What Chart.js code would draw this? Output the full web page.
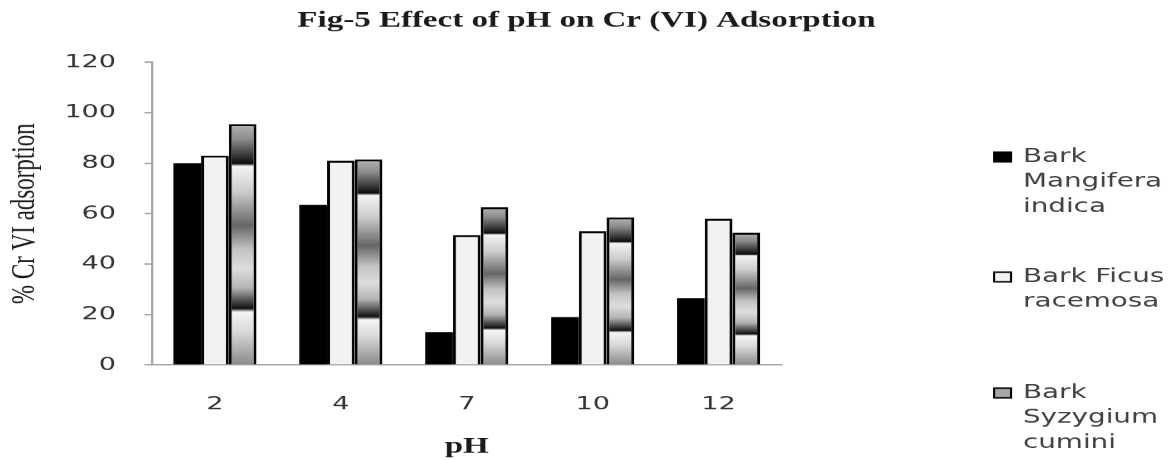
<!DOCTYPE html>
<html><head><meta charset="utf-8">
<script src="https://cdn.jsdelivr.net/npm/chart.js@4.4.1/dist/chart.umd.min.js"></script>
<style>
html,body{margin:0;padding:0;background:#fff;overflow:hidden;width:1168px;height:460px;}
#wrap{position:absolute;left:0;top:0;width:779px;height:460px;transform:scaleX(1.4994);transform-origin:0 0;}
</style></head><body>
<div id="wrap"><canvas id="c"></canvas></div>
<script>
const categories = ['2', '4', '7', '10', '12'];
const seriesNames = ['Bark Mangifera indica', 'Bark Ficus racemosa', 'Bark Syzygium cumini'];
const legendLines = [['Bark', 'Mangifera', 'indica'], ['Bark Ficus', 'racemosa'], ['Bark', 'Syzygium', 'cumini']];
const mangifera = [80, 63.5, 13, 19, 26.5];
const ficus = [83, 81, 51.5, 53, 58];
const syzygium = [95.5, 81.5, 62.5, 58.5, 52.5];
const chartTitle = 'Fig-5 Effect of pH on Cr (VI) Adsorption';
const xTitle = 'pH';
const yTitle = '% Cr VI adsorption';

const gradStops = [
  [0, '#b4b4b4'], [0.06, '#8e8e8e'], [0.14, '#2c2c2c'], [0.163, '#0a0a0a'], [0.175, '#f4f4f4'],
  [0.28, '#cdcdcd'], [0.42, '#666666'], [0.52, '#c4c4c4'], [0.6, '#dedede'], [0.68, '#b4b4b4'],
  [0.74, '#404040'], [0.765, '#111111'], [0.78, '#f5f5f5'], [0.86, '#dadada'], [1, '#8a8a8a']
];
function syzFill(ctx) {
  const chart = ctx.chart;
  if (!chart.chartArea || ctx.type !== 'data' || !chart.scales.y) return '#a8a8a8';
  const y = chart.scales.y;
  const top = y.getPixelForValue(ctx.raw);
  const base = y.getPixelForValue(0);
  const g = chart.ctx.createLinearGradient(0, top, 0, base);
  gradStops.forEach(s => g.addColorStop(s[0], s[1]));
  return g;
}

const legendPlugin = {
  id: 'sideLegend',
  afterDraw(chart) {
    const ctx = chart.ctx;
    const kx = 662, tx = 682, firstY = [157, 277, 393], lh = 25;
    ctx.save();
    ctx.font = '18.5px "DejaVu Sans", sans-serif';
    ctx.textBaseline = 'middle';
    ctx.textAlign = 'left';
    chart.data.datasets.forEach((ds, i) => {
      const y = firstY[i];
      ctx.fillStyle = ds.legendFill;
      ctx.fillRect(kx, y - 5.5, 12.7, 11);
      if (ds.legendStroke) {
        ctx.lineWidth = 1.4; ctx.strokeStyle = '#000';
        ctx.strokeRect(kx + 0.7, y - 4.8, 11.3, 9.6);
      }
      ctx.fillStyle = '#404040';
      legendLines[i].forEach((t, j) => ctx.fillText(t, tx, y + j * lh));
    });
    ctx.restore();
  }
};

new Chart(document.getElementById('c'), {
  type: 'bar',
  data: {
    labels: categories,
    datasets: [
      { label: seriesNames[0], data: mangifera, backgroundColor: '#000', borderWidth: 0, legendFill: '#000' },
      { label: seriesNames[1], data: ficus, backgroundColor: '#f2f2f2', borderColor: '#000', borderWidth: 2, legendFill: '#f2f2f2', legendStroke: true },
      { label: seriesNames[2], data: syzygium, backgroundColor: syzFill, borderColor: '#000', borderWidth: 2, legendFill: '#a8a8a8', legendStroke: true }
    ]
  },
  options: {
    responsive: true, maintainAspectRatio: false, animation: false,
    devicePixelRatio: 1.5,
    barPercentage: 1, categoryPercentage: 0.66,
    layout: { padding: { left: 3, right: 0, top: 0, bottom: 0 } },
    plugins: {
      legend: { display: false }, tooltip: { enabled: false },
      title: { display: true, text: chartTitle, color: '#1a1a1a',
        font: { family: '"Liberation Serif", serif', size: 22, weight: 'bold' },
        padding: { top: 8, bottom: 28 } }
    },
    scales: {
      x: {
        grid: { display: false, drawTicks: false },
        border: { display: true, color: '#a6a6a6', width: 1.5 },
        ticks: { color: '#333333', font: { family: '"DejaVu Sans", sans-serif', size: 18 }, padding: 29 },
        title: { display: true, text: xTitle, color: '#1a1a1a',
          font: { family: '"Liberation Serif", serif', size: 22, weight: 'bold' }, padding: { top: 18, bottom: 0 } },
        afterFit(s) { s.height = 95; }
      },
      y: {
        min: 0, max: 120,
        ticks: { stepSize: 20, color: '#333333', font: { family: '"DejaVu Sans", sans-serif', size: 18 }, padding: 19 },
        grid: { drawOnChartArea: false, drawTicks: true, tickLength: 5, color: '#a6a6a6', lineWidth: 1.5 },
        border: { display: true, color: '#a6a6a6', width: 1.5 },
        title: { display: true, text: yTitle, color: '#1a1a1a',
          font: { family: '"Liberation Serif", serif', size: 23 }, padding: { top: 0, bottom: 14 } },
        afterFit(s) { s.width = 98.3; }
      },
      yR: {
        position: 'right', display: true,
        grid: { display: false, drawTicks: false }, border: { display: false },
        ticks: { display: false },
        afterFit(s) { s.width = 258; }
      }
    }
  },
  plugins: [legendPlugin]
});
</script>
</body></html>
